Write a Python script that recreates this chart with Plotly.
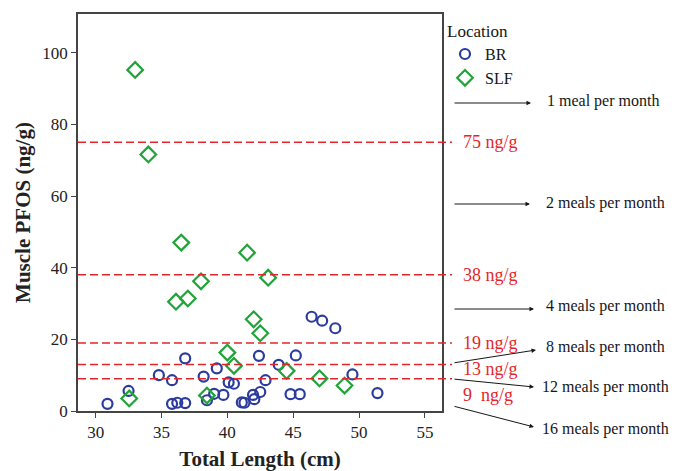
import plotly.graph_objects as go

# Fish samples: total length (cm) and muscle PFOS (ng/g) by location
br_length = [30.9, 32.5, 34.8, 35.8, 35.8, 36.2, 36.8, 36.8, 38.2, 38.45, 39.0, 39.2,
             39.7, 40.1, 40.5, 41.1, 41.3, 41.95, 42.05, 42.5, 42.4, 42.9, 43.9, 44.8,
             45.5, 45.2, 46.4, 47.2, 48.2, 49.5, 51.4]
br_pfos = [2.0, 5.6, 10.0, 8.6, 2.0, 2.3, 2.2, 14.7, 9.6, 3.0, 4.8, 11.9,
           4.5, 8.0, 7.6, 2.4, 2.3, 4.5, 3.3, 5.3, 15.4, 8.6, 12.9, 4.7,
           4.7, 15.5, 26.3, 25.2, 23.1, 10.2, 5.0]

slf_length = [33.0, 34.0, 36.5, 41.5, 43.1, 38.0, 36.1, 37.0, 42.0, 42.5, 40.0, 40.5,
              44.5, 47.0, 48.9, 38.45, 32.55]
slf_pfos = [95.2, 71.6, 47.0, 44.2, 37.2, 36.2, 30.5, 31.4, 25.6, 21.7, 16.3, 12.6,
            11.2, 9.1, 7.1, 4.3, 3.5]

# Consumption advisory thresholds (ng/g) and meal frequencies
thresholds = [75, 38, 19, 13, 9]
threshold_labels = ["75 ng/g", "38 ng/g", "19 ng/g", "13 ng/g", "9\u00a0 ng/g"]
meal_labels = ["1 meal per month", "2 meals per month", "4 meals per month",
               "8 meals per month", "12 meals per month", "16 meals per month"]

x_ticks = [30, 35, 40, 45, 50, 55]
y_ticks = [0, 20, 40, 60, 80, 100]

# Plot-area geometry in pixels
FIG_W, FIG_H = 688, 471
L, T, R, B = 78, 14, 442, 411
PW, PH = R - L, B - T


def px(xp):
    return (xp - L) / PW


def py(yp):
    return (B - yp) / PH


SERIF = "Liberation Serif"
BLUE = "#2b3c9e"
GREEN = "#22a33a"
RED = "#e3262b"
INK = "#161616"

fig = go.Figure()
fig.add_trace(go.Scatter(
    x=br_length, y=br_pfos, mode="markers", name="BR",
    marker=dict(symbol="circle-open", size=10, color=BLUE, line=dict(width=2.2, color=BLUE)),
))
fig.add_trace(go.Scatter(
    x=slf_length, y=slf_pfos, mode="markers", name="SLF",
    marker=dict(symbol="diamond-open", size=12, color=GREEN, line=dict(width=2.2, color=GREEN)),
))

# Threshold lines, running slightly past the right frame
for val in thresholds:
    fig.add_shape(type="line", xref="paper", yref="y", x0=0, x1=px(452), y0=val, y1=val,
                  line=dict(color=RED, width=1.5, dash="8px,4px"), layer="above")

label_shifts = [0, 0, 0, -5, -16]
for val, lab, sh in zip(thresholds, threshold_labels, label_shifts):
    fig.add_annotation(x=px(461), xref="paper", y=val, yref="y", yshift=sh, text=lab,
                       showarrow=False, xanchor="left", yanchor="middle",
                       font=dict(family=SERIF, size=18, color=RED))

# Arrows pointing to meal-frequency text: (tail x, tail y, head x, head y, text x, text y)
arrow_geom = [
    (453, 103, 531, 103, 545, 101),
    (453, 204, 530, 204, 544, 203),
    (453, 309, 534, 309, 544, 306),
    (453, 363, 536, 350, 544, 347),
    (453, 379, 534, 387, 540, 387),
    (453, 406, 534, 427, 540, 429),
]
for (tx, ty, hx, hy, lx, ly), lab in zip(arrow_geom, meal_labels):
    fig.add_annotation(x=px(hx), y=py(hy), xref="paper", yref="paper",
                       ax=tx - hx, ay=ty - hy, axref="pixel", ayref="pixel",
                       text="", showarrow=True, arrowhead=2, arrowsize=0.9,
                       arrowwidth=1, arrowcolor=INK)
    fig.add_annotation(x=px(lx), y=py(ly), xref="paper", yref="paper", text=lab,
                       showarrow=False, xanchor="left", yanchor="middle",
                       font=dict(family=SERIF, size=16, color=INK))

axis_common = dict(
    showline=True, linecolor="#444", linewidth=1.5, mirror=True,
    ticks="outside", ticklen=5, tickwidth=1.2, tickcolor="#444",
    showgrid=False, zeroline=False, automargin=False,
    tickfont=dict(family=SERIF, size=17, color="#222"),
)

fig.update_xaxes(range=[28.66, 56.3], tickvals=x_ticks, ticktext=[str(v) for v in x_ticks],
                 title=dict(text="<b>Total Length (cm)</b>", standoff=18,
                            font=dict(family=SERIF, size=21, color="#222")),
                 **axis_common)
fig.update_yaxes(range=[0, 110.8], tickvals=y_ticks, ticktext=[str(v) for v in y_ticks],
                 title=dict(text="<b>Muscle PFOS (ng/g)</b>", standoff=6,
                            font=dict(family=SERIF, size=21, color="#222")),
                 **axis_common)

fig.update_layout(
    width=FIG_W, height=FIG_H,
    margin=dict(l=L, r=FIG_W - R, t=T, b=FIG_H - B, autoexpand=False),
    paper_bgcolor="white", plot_bgcolor="white",
    font=dict(family=SERIF),
    showlegend=True,
    legend=dict(
        title=dict(text="Location", side="top", font=dict(family=SERIF, size=17, color=INK)),
        x=px(445), y=py(15), xanchor="left", yanchor="top",
        font=dict(family=SERIF, size=16, color=INK),
        itemwidth=30, tracegroupgap=0, bgcolor="rgba(0,0,0,0)",
    ),
)

fig.write_html("out.html")
